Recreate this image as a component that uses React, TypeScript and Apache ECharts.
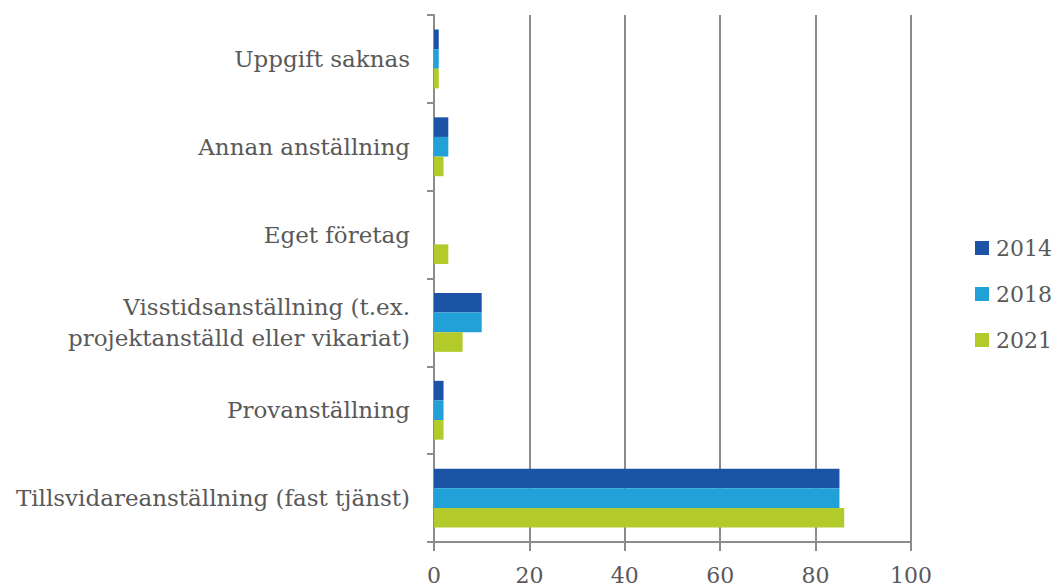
import React, { useEffect, useRef } from "react";
import * as echarts from "echarts";

const categories = [
  "Uppgift saknas",
  "Annan anställning",
  "Eget företag",
  "Visstidsanställning (t.ex.\nprojektanställd eller vikariat)",
  "Provanställning",
  "Tillsvidareanställning (fast tjänst)",
];
const seriesNames = ["2014", "2018", "2021"];
const values2014 = [1, 3, 0, 10, 2, 85];
const values2018 = [1, 3, 0, 10, 2, 85];
const values2021 = [1, 2, 3, 6, 2, 86];
const colors = ["#1B54A7", "#22A1D9", "#B2CB2B"];
const xTicks = { min: 0, max: 100, interval: 20 };

const FONT = "DejaVu Serif";
const TEXT = "#595959";
const GRAY = "#8C8C8C";

export default function App() {
  const ref = useRef<HTMLDivElement>(null);
  useEffect(() => {
    document.body.style.margin = "0";
    if (!ref.current) return;
    const chart = echarts.init(ref.current, undefined, { renderer: "svg" });
    const data = [values2014, values2018, values2021];
    chart.setOption({
      animation: false,
      grid: { left: 434, right: 145, top: 15, bottom: 45, containLabel: false },
      legend: {
        orient: "vertical",
        left: 975,
        top: 237,
        padding: 0,
        itemWidth: 14,
        itemHeight: 14,
        itemGap: 24,
        icon: "rect",
        data: seriesNames,
        textStyle: { fontFamily: FONT, fontSize: 22, color: TEXT, padding: [0, 0, 0, 2] },
      },
      xAxis: {
        type: "value",
        min: xTicks.min,
        max: xTicks.max,
        interval: xTicks.interval,
        axisLine: { show: true, lineStyle: { color: GRAY, width: 2 } },
        axisTick: { show: true, length: 9, lineStyle: { color: GRAY, width: 2 } },
        splitLine: { show: true, lineStyle: { color: GRAY, width: 2 } },
        axisLabel: { fontFamily: FONT, fontSize: 22, color: TEXT, margin: 22 },
      },
      yAxis: {
        type: "category",
        inverse: true,
        data: categories,
        axisLine: { show: true, lineStyle: { color: GRAY, width: 2 } },
        axisTick: { show: true, length: 7, lineStyle: { color: GRAY, width: 2 } },
        axisLabel: {
          fontFamily: FONT,
          fontSize: 23,
          color: TEXT,
          margin: 24,
          lineHeight: 31,
          align: "right",
        },
      },
      series: seriesNames.map((name, i) => ({
        name,
        type: "bar",
        data: data[i],
        barGap: "0%",
        barCategoryGap: "33%",
        itemStyle: { color: colors[i] },
      })),
    });
    return () => chart.dispose();
  }, []);
  return <div ref={ref} style={{ width: 1056, height: 587 }} />;
}
